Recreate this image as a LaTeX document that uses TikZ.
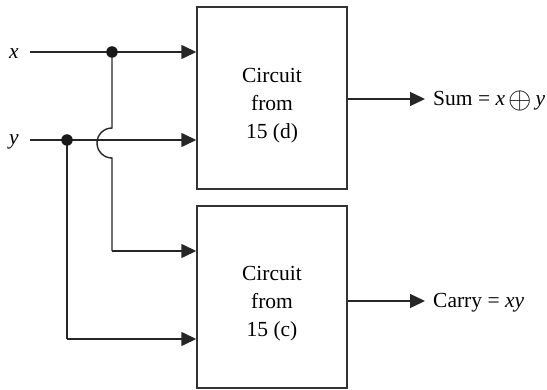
\documentclass[tikz,border=0pt]{standalone}
\usepackage{fontspec}
\setmainfont{Liberation Serif}
\usetikzlibrary{arrows.meta}
\begin{document}
\begin{tikzpicture}[x=1pt,y=-1pt,
  wire/.style={line width=1.4pt, draw=black!85},
  arr/.style={wire, -{Triangle[length=15pt,width=14pt]}},
  box/.style={draw=black!80, line width=1.4pt, minimum width=150pt, minimum height=182pt, inner sep=0pt},
  lbl/.style={font=\fontsize{21.5}{28}\selectfont, inner sep=0pt},
  blk/.style={lbl, align=center},
  dot/.style={circle, fill=black!90, inner sep=0pt, minimum size=11.5pt}]
\useasboundingbox (0,0) rectangle (547,390);
% boxes
\node[box] (b1) at (272,98) {};
\node[box] (b2) at (272,297) {};
\node[blk] (t1) at (272,106) {Circuit\\from\\15 (d)};
\node[blk] (t2) at (272,304) {Circuit\\from\\15 (c)};
% inputs
\node[lbl, anchor=base] (xl) at (14,59) {\textit{x}};
\node[lbl, anchor=base] (yl) at (14,145) {\textit{y}};
\coordinate (xs) at (30,52);
\coordinate (ys) at (30,140);
\coordinate (jx) at (112,52);
\coordinate (jy) at (67,140);
\coordinate (hopt) at (112,128);
\coordinate (hopb) at (112,158);
\coordinate (c1) at (112,251);
\coordinate (c2) at (67,339);
% top box inputs
\draw[arr] (xs) -- (b1.west |- xs);
\draw[arr] (ys) -- (b1.west |- ys);
% x branch with hop
\draw[wire] (jx) -- (hopt) arc[start angle=90, end angle=270, radius=15pt] -- (hopb) -- (c1);
\draw[arr] (c1) -- (b2.west |- c1);
% y branch
\draw[wire] (jy) -- (c2);
\draw[arr] (c2) -- (b2.west |- c2);
\node[dot] at (jx) {};
\node[dot] at (jy) {};
% outputs
\coordinate (s1) at (b1.east |- 0,99);
\coordinate (s2) at (b2.east |- 0,301);
\coordinate (s1e) at (425,99);
\coordinate (s2e) at (425,301);
\node[lbl, anchor=base west] (sum) at (433,106) {Sum = \textit{x}\,\raisebox{-0.12em}{\scalebox{1.45}{$\oplus$}}\,\textit{y}};
\node[lbl, anchor=base west] (carry) at (433,308) {Carry = \textit{xy}};
\draw[arr] (s1) -- (s1e);
\draw[arr] (s2) -- (s2e);
\end{tikzpicture}
\end{document}
